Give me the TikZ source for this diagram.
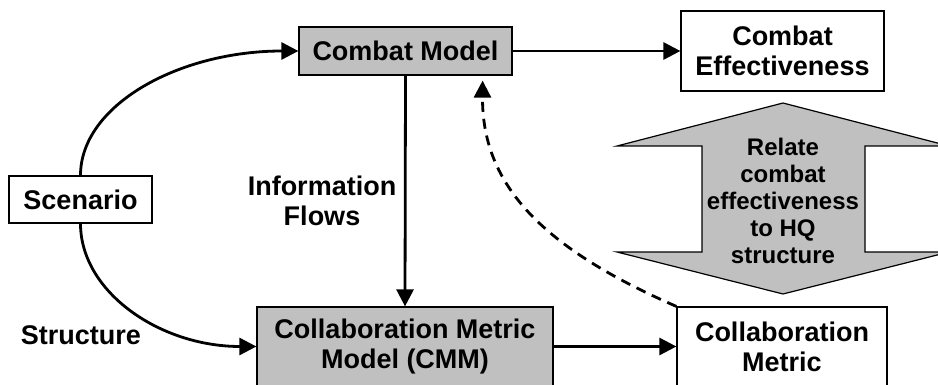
\documentclass[tikz,border=0pt]{standalone}
\usepackage{fontspec}
\setmainfont{Liberation Sans}
\usetikzlibrary{arrows.meta,calc}
\definecolor{boxgray}{HTML}{C0C0C0}
\tikzset{
  box/.style={draw=black, line width=1.2pt, inner sep=0pt, align=center,
    font=\bfseries\fontsize{27}{30}\selectfont},
  graybox/.style={box, fill=boxgray},
  lbl/.style={align=center, inner sep=0pt, font=\bfseries\fontsize{27}{30}\selectfont},
  conn/.style={line width=2.8pt, -{Triangle[length=17pt,width=17pt]}},
  dconn/.style={conn, dash pattern=on 10pt off 7pt},
}
\begin{document}
\begin{tikzpicture}[x=1pt,y=-1pt]
\useasboundingbox (0,0) rectangle (938,385);
\clip (0,0) rectangle (938,385);
% big double arrow
\draw[line width=1.2pt, fill=boxgray] (783,103) -- (617,146) -- (702,146) -- (702,252) -- (617,252)
  -- (783,294) -- (949,252) -- (865,252) -- (865,146) -- (949,146) -- cycle;
\node[align=center, inner sep=0pt, font=\bfseries\fontsize{24}{27}\selectfont] (rel) at (783,201)
  {Relate\\combat\\effectiveness\\to HQ\\structure};
% boxes
\node[graybox, minimum width=213pt, minimum height=48pt] (cm) at (405.5,51) {Combat Model};
\node[box, fill=white, minimum width=203pt, minimum height=80pt] (ce) at (782.5,51) {Combat\\Effectiveness};
\node[box, fill=white, minimum width=143pt, minimum height=47pt] (scen) at (80.5,199.5) {Scenario};
\node[graybox, minimum width=296pt, minimum height=79pt] (cmm) at (405,346.5) {Collaboration Metric\\Model (CMM)};
\node[box, fill=white, minimum width=210pt, minimum height=79pt] (colm) at (782,346.5) {Collaboration\\Metric};
% labels
\node[lbl] (info) at (322,201) {Information\\Flows};
\node[lbl] (struct) at (81,335) {Structure};
% connectors
\draw[conn] (cm.east) -- (ce.west);
\draw[conn] (cm.south) -- (cmm.north);
\draw[conn] (cmm.east) -- (colm.west);
\draw[conn] (scen.north) .. controls ++(0,-70) and ($(cm.west)+(-120,0)$) .. (cm.west);
\draw[conn] (scen.south) .. controls ++(0,68) and ($(cmm.west)+(-97,0)$) .. (cmm.west);
\coordinate (dend) at ([xshift=-30pt,yshift=-5pt]cm.south east);
\draw[dconn] (colm.north west) .. controls (535,245) and (482,180) .. (dend);
\end{tikzpicture}
\end{document}
